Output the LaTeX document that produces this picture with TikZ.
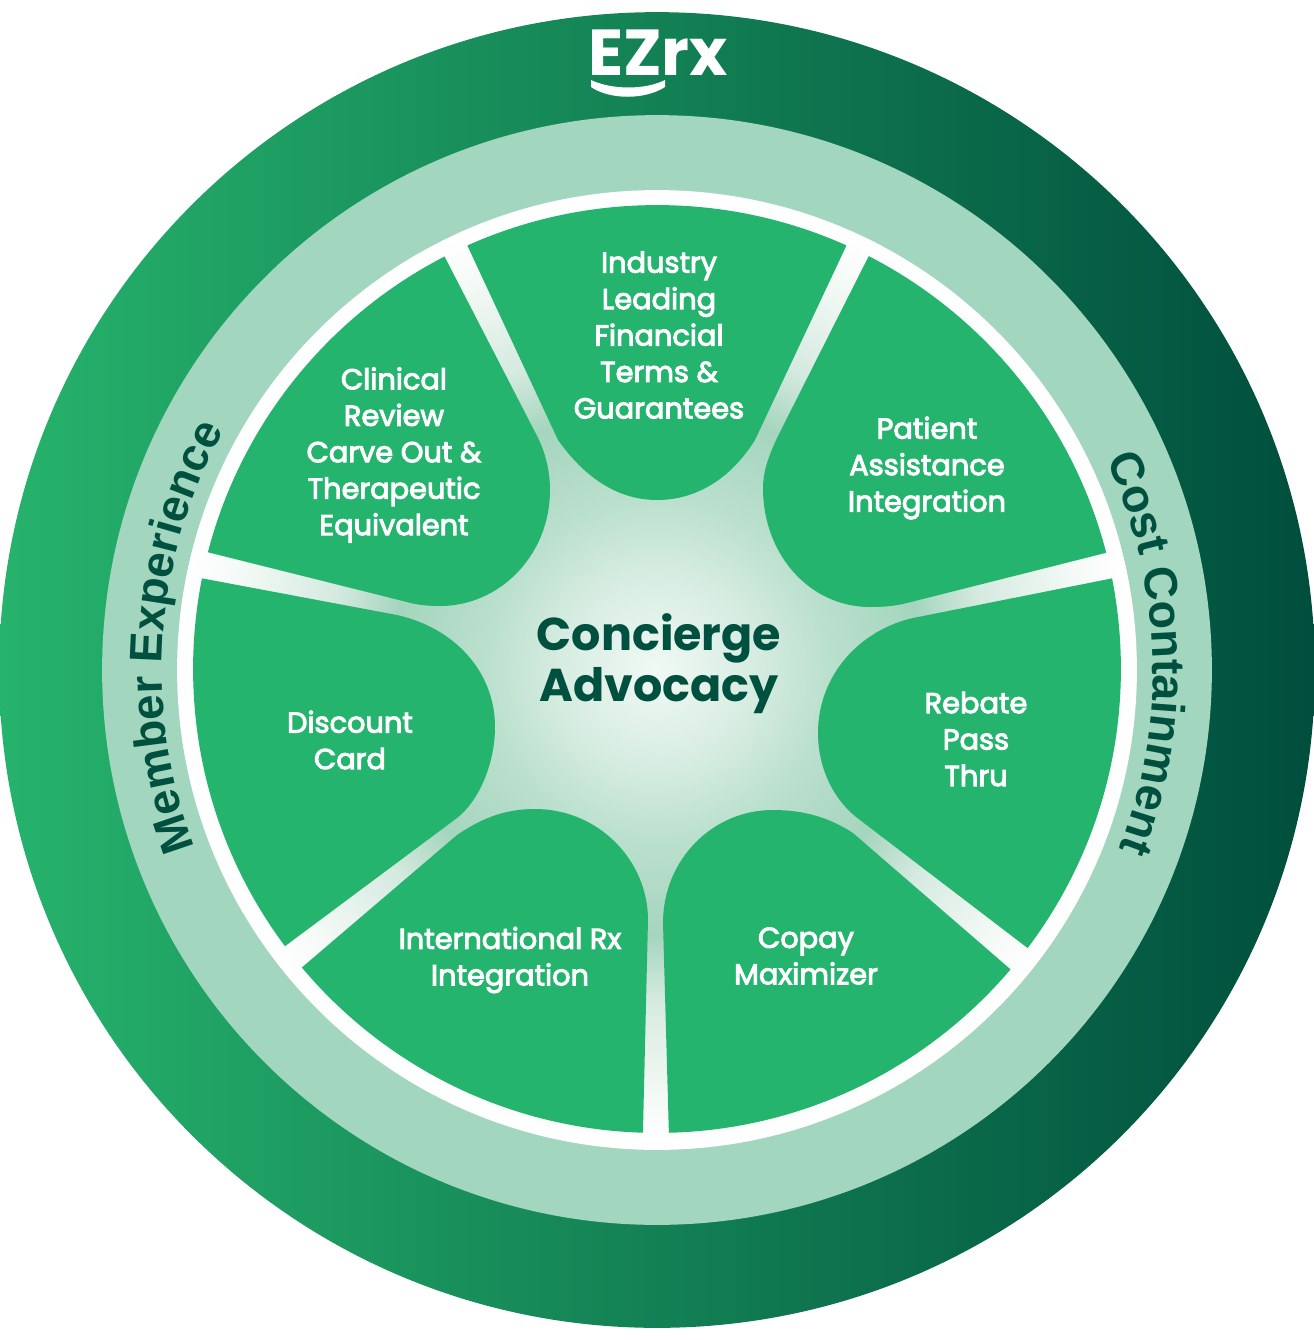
\documentclass[tikz,border=0pt]{standalone}
\usepackage{fontspec}
\usetikzlibrary{calc,decorations.text}
\newfontfamily\labelfont{Poppins}
\newfontfamily\hubfont{Poppins}[BoldFont={Poppins Bold}]
\newfontfamily\ringfont{Liberation Sans}
\definecolor{wedgegreen}{HTML}{25B46E}
\definecolor{darkgreen}{HTML}{00503F}
\definecolor{ringmint}{HTML}{A2D6BF}
\definecolor{rimleft}{HTML}{26B36C}
\definecolor{rimmid}{HTML}{0C8159}
\definecolor{rimright}{HTML}{004E3D}
\definecolor{glowa}{HTML}{F0F9F5}
\definecolor{glowb}{HTML}{D6ECE1}
\definecolor{glowc}{HTML}{BBE0CE}
\definecolor{glowd}{HTML}{A5D5BE}
\definecolor{glowe}{HTML}{D5EAE0}
\definecolor{glowf}{HTML}{F5FAF7}
\pgfdeclareradialshading{hubglow}{\pgfpointorigin}{color(0bp)=(glowa); color(5.2bp)=(glowb); color(8.85bp)=(glowc); color(13.8bp)=(glowd); color(17.2bp)=(glowe); color(22.4bp)=(glowf); color(25bp)=(white); color(50bp)=(white)}
\tikzset{
	wedge/.style={fill=wedgegreen},
	wedgelabel/.style={text=white, font=\labelfont\fontsize{16.4}{20.75}\selectfont, align=center, inner sep=0pt,
		execute at begin node={\special{pdf:code 2 Tr 0.55 w 1 1 1 RG}},
		execute at end node={\special{pdf:code 0 Tr}}},
	hublabel/.style={text=darkgreen, font=\hubfont\bfseries\fontsize{26.2}{28.9}\selectfont, align=center, inner sep=0pt},
	ringtext/.style={decorate, decoration={text along path, text align=center, text color=darkgreen, text={#1}}}
}
\begin{document}
\begin{tikzpicture}[x=0.02cm,y=-0.02cm]
	\useasboundingbox (0,0) rectangle (1314,1340);
	\coordinate (hub) at (657,670);
	% rings
	\shade[left color=rimleft, middle color=rimmid, right color=rimright] (hub) circle[radius=13.16cm];
	\fill[ringmint] (hub) circle[radius=11.1cm];
	\shade[shading=hubglow] (hub) circle[radius=9.6cm];
	% wedges, cut off by the disc
	\begin{scope}
	\clip (657,669) circle[radius=9.28cm];
	\fill[wedge] (441,189) -- (558,440) .. controls (590,485) and (625,500) .. (657,500)
		.. controls (695,500) and (730,480) .. (755,440) -- (873,189) -- (657,0) -- cycle;
	\fill[wedge] (894,206) -- (780,432) .. controls (770,452) and (763,470) .. (763,488)
		.. controls (763,555) and (810,607) .. (870,607) .. controls (885,607) and (895,606) .. (907,603)
		-- (1145,543) -- (1203,235) -- cycle;
	\fill[wedge] (1149,571) -- (913,618) .. controls (860,630) and (818,675) .. (818,733)
		.. controls (818,770) and (835,802) .. (860,820) -- (1059,972) -- (1300,830) -- cycle;
	\fill[wedge] (1039,994) -- (853,833) .. controls (830,818) and (805,810) .. (773,810)
		.. controls (712,810) and (663,860) .. (663,923) -- (670,1173) -- (950,1300) -- cycle;
	\fill[wedge] (272,993) -- (457,835) .. controls (482,818) and (505,809) .. (535,809)
		.. controls (598,809) and (648,860) .. (648,920) -- (642,1172) -- (370,1300) -- cycle;
	\fill[wedge] (163,571) -- (397,615) .. controls (455,628) and (495,672) .. (495,727)
		.. controls (495,762) and (480,800) .. (457,818) -- (253,970) -- (10,830) -- cycle;
	\fill[wedge] (418,205) -- (535,432) .. controls (545,450) and (550,470) .. (550,490)
		.. controls (550,555) and (500,606) .. (440,606) .. controls (428,606) and (417,605) .. (407,602)
		-- (171,543) -- (110,235) -- cycle;
	\end{scope}
	% wedge labels
	\node[wedgelabel] (financial) at (659,335) {Industry\\Leading\\Financial\\Terms \&\\Guarantees};
	\node[wedgelabel] (patient) at (927,468) {Patient\\Assistance\\Integration};
	\node[wedgelabel] (rebate) at (976,739) {Rebate\\Pass\\Thru};
	\node[wedgelabel] (copay) at (806,956) {Copay\\Maximizer};
	\node[wedgelabel] (international) at (510,960) {International Rx\\Integration};
	\node[wedgelabel] (discount) at (350,740) {Discount\\Card};
	\node[wedgelabel] (clinical) at (394,455) {Clinical\\Review\\Carve Out \&\\Therapeutic\\Equivalent};
	\node[hublabel] (concierge) at (659,664) {Concierge\\Advocacy};
	% ring texts
	\path[ringtext={|\ringfont\bfseries\fontsize{26}{30}\selectfont|Member Experience}] ($(hub)+(203:9.9cm)$) arc[start angle=203, end angle=149, radius=9.9cm];
	\path[ringtext={|\ringfont\bfseries\fontsize{26.5}{30}\selectfont|Cost Containment}] ($(hub)+(27:9.92cm)$) arc[start angle=27, end angle=-23, radius=9.92cm];
	% logo
	\node[text=white, font=\hubfont\bfseries\fontsize{37}{40}\selectfont, inner sep=0pt] (logo) at (658,53) {EZrx};
	\fill[white] (591,80) .. controls (612,90) and (645,90) .. (665,80) -- (665,87)
		.. controls (645,100) and (610,100) .. (591,87) -- cycle;
\end{tikzpicture}
\end{document}
